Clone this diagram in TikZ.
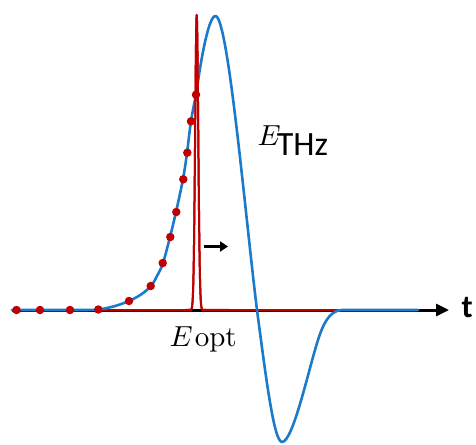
\documentclass[tikz,border=0pt]{standalone}
\usepackage{fontspec}
\newfontfamily\carlito{Carlito}
\usetikzlibrary{arrows.meta}
\definecolor{thzblue}{HTML}{1C7ACB}
\definecolor{optred}{HTML}{C00000}
\tikzset{
  axisline/.style={line width=3pt, black, -{Triangle[length=13pt,width=12pt]}},
  bluecurve/.style={line width=2.6pt, thzblue, line cap=round, line join=round},
  redcurve/.style={line width=2pt, optred, line join=round},
  dot/.style={circle, fill=optred, inner sep=0pt, minimum size=8.5pt},
  lbl/.style={inner sep=0pt},
}
\begin{document}
\begin{tikzpicture}[x=1pt,y=-1pt]
\useasboundingbox (0,0) rectangle (476,444);
% axis
\coordinate (a0) at (12,310);
\coordinate (a1) at (449,310);
\draw[axisline] (a0) -- (a1);
% red optical line along the axis with its pulse
\coordinate (r0) at (12,310);
\coordinate (r1) at (418,310);
\draw[redcurve] (r0) -- (185,310)
  plot[domain=185:209, samples=161, smooth] (\x, {310-295*exp(-((\x-196.7)/2.2)^2)})
  -- (r1);
% THz field
\draw[bluecurve] plot[smooth, tension=0.55] coordinates {
 (12,310) (50,310) (80,310) (98,309.5) (114,306.3) (129,301) (141,294.5) (151,286)
 (157,276) (163,263) (170,237) (176,212) (183,179) (187,153) (191,121) (196,95)}
 .. controls (200,66) and (208,16) .. (215.5,16)
 .. controls (228,16) and (245,213) .. (257,310)
 .. controls (266,378) and (274,442) .. (282,442)
 .. controls (293,442) and (308.4,370) .. (318,340)
 .. controls (321.5,329) and (328,310) .. (342,310)
 -- (418,310);
% red pulse on top
\draw[redcurve] plot[domain=188:206, samples=121, smooth] (\x, {310-295*exp(-((\x-196.7)/2.2)^2)});
% sampling dots
\foreach \i/\p in {1/{(16.5,310)},2/{(40,310)},3/{(70,310)},4/{(98.3,309.5)},5/{(129,301)},
  6/{(150.7,286)},7/{(162.7,263)},8/{(170.3,237)},9/{(176.3,212)},10/{(183.3,179.3)},
  11/{(187.3,152.7)},12/{(191,121.3)},13/{(196,94.7)}}
  \node[dot] (d\i) at \p {};
% delay arrow
\coordinate (m0) at (204,246.5);
\coordinate (m1) at (228,246.5);
\draw[line width=3pt, -{Triangle[length=8pt,width=10pt]}] (m0) -- (m1);
% labels
\node[lbl, anchor=base west] (ethz) at (257.5,145) {\scalebox{2.9}{$E$}\kern-4pt\raisebox{-10pt}{\carlito\fontsize{34}{34}\selectfont THz}};
\node[lbl, anchor=base west] (eopt) at (169.5,346.7) {\scalebox{2.9}{$E$}\kern2pt\scalebox{2.9}{\addfontfeatures{LetterSpace=4}opt}};
\node[lbl, anchor=base west] (tlab) at (461.5,317) {\carlito\bfseries\fontsize{32}{32}\selectfont t};
\end{tikzpicture}
\end{document}
